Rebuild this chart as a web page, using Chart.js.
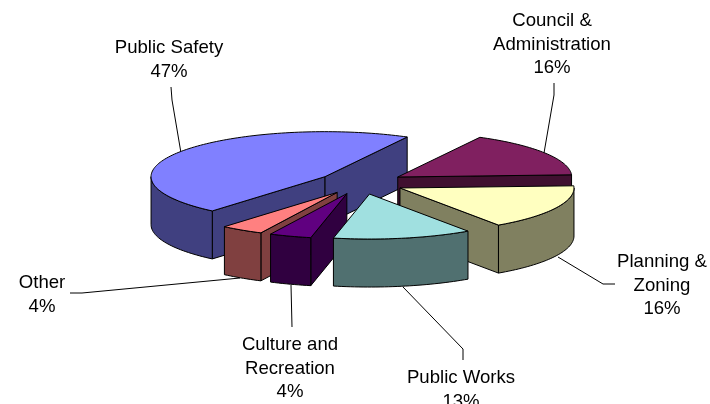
<!DOCTYPE html>
<html>
<head>
<meta charset="utf-8">
<style>
  html, body { margin: 0; padding: 0; background: #fff; }
  #chart { display: block; }
</style>
<script src="https://cdn.jsdelivr.net/npm/chart.js@4"></script>
</head>
<body>
<div style="width:710px;height:404px"><canvas id="chart"></canvas></div>
<script>
const categories = ['Public Safety', 'Council & Administration', 'Planning & Zoning', 'Public Works', 'Culture and Recreation', 'Other'];
const shares = [46.6, 16.4, 16.2, 12.9, 3.9, 4.0]; // the labels show them rounded
const topColors = ['#8080ff', '#802060', '#ffffc0', '#a0e0e0', '#600080', '#ff8080'];
const wallColors = ['#404080', '#401030', '#808060', '#507070', '#300040', '#804040'];

// label text lines, centre x and first baseline as they sit in the picture
const labelLines = [
  ['Public Safety', '47%'],
  ['Council &', 'Administration', '16%'],
  ['Planning &', 'Zoning', '16%'],
  ['Public Works', '13%'],
  ['Culture and', 'Recreation', '4%'],
  ['Other', '4%']
];
const labelX = [169, 552, 662, 461, 290, 42];
const labelY = [53, 26, 267, 383, 350, 288];
const lineGap = 23.7;
const leaders = [
  [[171, 87], [172, 100], [181, 153]],
  [[554, 83], [554, 95], [544, 153]],
  [[558, 257], [603, 284], [615, 284]],
  [[463, 360], [463, 349], [403, 287]],
  [[292, 327], [291, 285]],
  [[70, 293], [82, 293], [240, 278]]
];

const squash = 45 / 174;
const depth = 48;
const explode = 43.5; // the arc's own offset option also grows the radius, so pull slices out here
const drawOrder = [0, 1, 2, 5, 4, 3];

function facePath(ctx, pts) {
  ctx.beginPath();
  pts.forEach((p, i) => i ? ctx.lineTo(p[0], p[1]) : ctx.moveTo(p[0], p[1]));
  ctx.closePath();
}

function fillStroke(ctx, color) {
  ctx.fillStyle = color;
  ctx.fill();
  ctx.strokeStyle = '#000';
  ctx.lineWidth = 1;
  ctx.stroke();
}

// the arcs are laid out by the pie controller, here they only get flattened and extruded
const pie3d = {
  id: 'pie3d',
  beforeDatasetsDraw(chart) {
    const ctx = chart.ctx;
    const arcs = chart.getDatasetMeta(0).data;

    ctx.save();
    ctx.strokeStyle = '#000';
    ctx.lineWidth = 1;
    leaders.forEach(line => {
      ctx.beginPath();
      line.forEach((p, i) => i ? ctx.lineTo(p[0], p[1]) : ctx.moveTo(p[0], p[1]));
      ctx.stroke();
    });
    ctx.restore();

    drawOrder.forEach(i => {
      const arc = arcs[i];
      const { x, y, startAngle, endAngle, outerRadius } = arc.getProps(['x', 'y', 'startAngle', 'endAngle', 'outerRadius']);
      const mid = (startAngle + endAngle) / 2;
      const cx = x + Math.cos(mid) * explode;
      const cy = y + Math.sin(mid) * explode * squash;
      const pt = (t, z) => [cx + Math.cos(t) * outerRadius, cy + Math.sin(t) * outerRadius * squash + z];
      const rim = (a, b, z) => {
        const pts = [];
        const n = Math.max(2, Math.ceil((b - a) * 40));
        for (let k = 0; k <= n; k++) pts.push(pt(a + (b - a) * k / n, z));
        return pts;
      };

      // cut faces, only the ones turned to the viewer
      if (Math.cos(startAngle) < 0) {
        facePath(ctx, [[cx, cy], pt(startAngle, 0), pt(startAngle, depth), [cx, cy + depth]]);
        fillStroke(ctx, wallColors[i]);
      }
      if (Math.cos(endAngle) > 0) {
        facePath(ctx, [[cx, cy], pt(endAngle, 0), pt(endAngle, depth), [cx, cy + depth]]);
        fillStroke(ctx, wallColors[i]);
      }

      // outer wall: the part of the rim on the lower half of the ellipse
      const turns = [0, 2 * Math.PI, 4 * Math.PI];
      turns.forEach(base => {
        const a = Math.max(startAngle, base);
        const b = Math.min(endAngle, base + Math.PI);
        if (b > a) {
          facePath(ctx, rim(a, b, 0).concat(rim(a, b, depth).reverse()));
          fillStroke(ctx, wallColors[i]);
        }
      });

      // top face: the library's own arc, flattened
      ctx.save();
      ctx.translate(0, y);
      ctx.scale(1, squash);
      ctx.translate(0, -y);
      ctx.translate(Math.cos(mid) * explode, Math.sin(mid) * explode);
      arc.draw(ctx);
      ctx.restore();
      facePath(ctx, [[cx, cy]].concat(rim(startAngle, endAngle, 0)));
      ctx.strokeStyle = '#000';
      ctx.lineWidth = 1;
      ctx.stroke();
    });

    ctx.save();
    ctx.fillStyle = '#000';
    ctx.font = '18.6px "Liberation Sans", Arial, sans-serif';
    ctx.textAlign = 'center';
    ctx.textBaseline = 'alphabetic';
    labelLines.forEach((lines, i) => {
      lines.forEach((s, k) => ctx.fillText(s, labelX[i], labelY[i] + k * lineGap));
    });
    ctx.restore();
    return false;
  }
};

new Chart(document.getElementById('chart'), {
  type: 'pie',
  data: {
    labels: categories,
    datasets: [{
      data: shares,
      backgroundColor: topColors,
      borderWidth: 0
    }]
  },
  options: {
    responsive: true,
    maintainAspectRatio: false,
    animation: false,
    rotation: 220.4,
    radius: 174,
    layout: { padding: { left: 12, bottom: 38 } },
    plugins: { legend: { display: false }, tooltip: { enabled: false } }
  },
  plugins: [pie3d]
});
</script>
</body>
</html>
